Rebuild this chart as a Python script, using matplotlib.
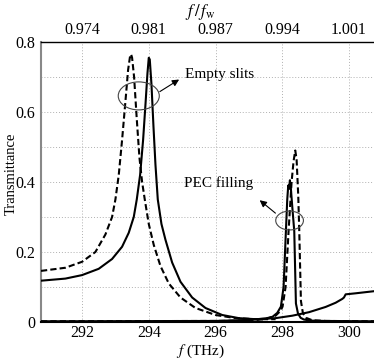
import numpy as np
import matplotlib
matplotlib.use('Agg')
import matplotlib.pyplot as plt
from matplotlib.patches import Ellipse

plt.rcParams['font.family'] = 'Liberation Serif'
plt.rcParams['mathtext.fontset'] = 'stix'

# Empty slits, solid
f_es_solid = [290.77, 291.5, 292.0, 292.5, 292.9, 293.2, 293.4, 293.55, 293.64, 293.74,
              293.83, 293.9, 293.96, 294.0, 294.03, 294.08, 294.14, 294.2, 294.27,
              294.38, 294.5, 294.7, 294.95, 295.3, 295.7, 296.2, 296.7, 297.2, 297.8,
              298.3, 298.8, 299.3, 299.6, 299.8, 299.85, 299.9, 300.2, 300.75]
t_es_solid = [0.118, 0.124, 0.134, 0.152, 0.18, 0.215, 0.255, 0.3, 0.35, 0.42,
              0.52, 0.62, 0.71, 0.755, 0.75, 0.68, 0.56, 0.45, 0.35,
              0.28, 0.235, 0.17, 0.115, 0.07, 0.04, 0.02, 0.011, 0.008, 0.011,
              0.018, 0.028, 0.043, 0.055, 0.066, 0.07, 0.079, 0.082, 0.088]

# Empty slits, dashed
f_es_dash = [290.77, 291.5, 292.0, 292.4, 292.7, 292.9, 293.0, 293.1, 293.2, 293.3,
             293.38, 293.44, 293.47, 293.5, 293.56, 293.64, 293.72, 293.8, 293.88,
             294.0, 294.15, 294.35, 294.6, 294.95, 295.4, 296.0, 296.6, 297.2, 297.8]
t_es_dash = [0.146, 0.155, 0.172, 0.2, 0.25, 0.3, 0.35, 0.42, 0.52, 0.63,
             0.72, 0.76, 0.765, 0.755, 0.7, 0.58, 0.47, 0.4, 0.35,
             0.28, 0.22, 0.16, 0.11, 0.07, 0.04, 0.02, 0.011, 0.008, 0.008]

# PEC filling, solid
f_pec_solid = [290.77, 296.0, 297.0, 297.5, 297.71, 297.85, 297.96, 298.04, 298.11, 298.15,
               298.18, 298.2, 298.23, 298.26, 298.3, 298.36, 298.41, 298.47, 298.55,
               298.65, 298.85, 299.3, 300.75]
t_pec_solid = [0.002, 0.003, 0.006, 0.01, 0.015, 0.026, 0.044, 0.1, 0.26, 0.35,
               0.39, 0.38, 0.405, 0.38, 0.33, 0.26, 0.053, 0.025, 0.012,
               0.007, 0.004, 0.003, 0.002]

# PEC filling, dashed
f_pec_dash = [290.77, 296.0, 297.0, 297.5, 297.8, 297.95, 298.01, 298.1, 298.19, 298.28,
              298.34, 298.39, 298.43, 298.48, 298.51, 298.56, 298.62, 298.71, 298.9,
              299.3, 300.75]
t_pec_dash = [0.002, 0.003, 0.004, 0.008, 0.018, 0.032, 0.044, 0.1, 0.26, 0.4,
              0.46, 0.49, 0.465, 0.36, 0.26, 0.06, 0.025, 0.012, 0.005,
              0.003, 0.002]

x_ticks = [292, 294, 296, 298, 300]
top_labels = ['0.974', '0.981', '0.987', '0.994', '1.001']
y_ticks = [0, 0.2, 0.4, 0.6, 0.8]
y_labels = ['0', '0.2', '0.4', '0.6', '0.8']

W, H = 374, 359
fig = plt.figure(figsize=(W / 100, H / 100), dpi=100)
ax = fig.add_axes([41 / W, 37 / H, 333 / W, 280 / H])

lw = 1.5
dash = (0, (3, 1.5))
ax.plot(f_es_dash, t_es_dash, color='black', lw=lw, ls=dash, zorder=3)
ax.plot(f_es_solid, t_es_solid, color='black', lw=lw, zorder=3)
ax.plot(f_pec_dash, t_pec_dash, color='black', lw=lw, ls=dash, zorder=3)
ax.plot(f_pec_solid, t_pec_solid, color='black', lw=lw, zorder=3)

ax.set_xlim(290.77, 300.75)
ax.set_ylim(0, 0.8)
ax.set_xticks(x_ticks)
ax.set_xticklabels([str(v) for v in x_ticks])
ax.set_yticks(y_ticks)
ax.set_yticklabels(y_labels)
ax.set_yticks(np.arange(0.1, 0.8, 0.2), minor=True)
ax.tick_params(length=0, labelsize=11.5, pad=4)
ax.tick_params(axis='x', pad=2)
ax.tick_params(which='minor', length=0)
ax.grid(True, which='both', color='#b0b0b0', ls=(0, (1, 2)), lw=0.7)
ax.xaxis.grid(False, which='minor')

ax.spines['right'].set_visible(False)
ax.spines['left'].set_color('#888888')
ax.spines['left'].set_linewidth(1.5)
ax.spines['top'].set_linewidth(1.0)
ax.spines['bottom'].set_linewidth(1.5)

top = ax.twiny()
top.set_xlim(ax.get_xlim())
top.set_xticks(x_ticks)
top.set_xticklabels(top_labels)
top.tick_params(length=0, labelsize=11.5, pad=3)
for s in top.spines.values():
    s.set_visible(False)

# axis labels placed in figure pixels
fig.text(200 / W, 1 - 351 / H, r'$f$ (THz)', fontsize=11, ha='center', va='center')
fig.text(200 / W, 1 - 12 / H, r'$f\,/\,f_{\rm w}$', fontsize=12, ha='center', va='center')
fig.text(11 / W, 1 - 174 / H, 'Transmittance', fontsize=10.5, rotation=90,
         ha='center', va='center')

# annotations
ax.add_patch(Ellipse((293.70, 0.646), 1.23, 0.08, fill=False, ec='#444444', lw=0.8, zorder=4))
ax.annotate('', xy=(294.98, 0.697), xytext=(294.26, 0.654),
            arrowprops=dict(arrowstyle='-|>', color='black', lw=0.8, mutation_scale=10))
ax.text(295.10, 0.706, 'Empty slits', fontsize=11, va='center', ha='left')

ax.add_patch(Ellipse((298.22, 0.29), 0.83, 0.054, fill=False, ec='#444444', lw=0.8, zorder=4))
ax.annotate('', xy=(297.26, 0.353), xytext=(297.86, 0.306),
            arrowprops=dict(arrowstyle='-|>', color='black', lw=0.8, mutation_scale=10))
ax.text(297.13, 0.397, 'PEC filling', fontsize=11, va='center', ha='right')

fig.savefig('out.png', dpi=100)
